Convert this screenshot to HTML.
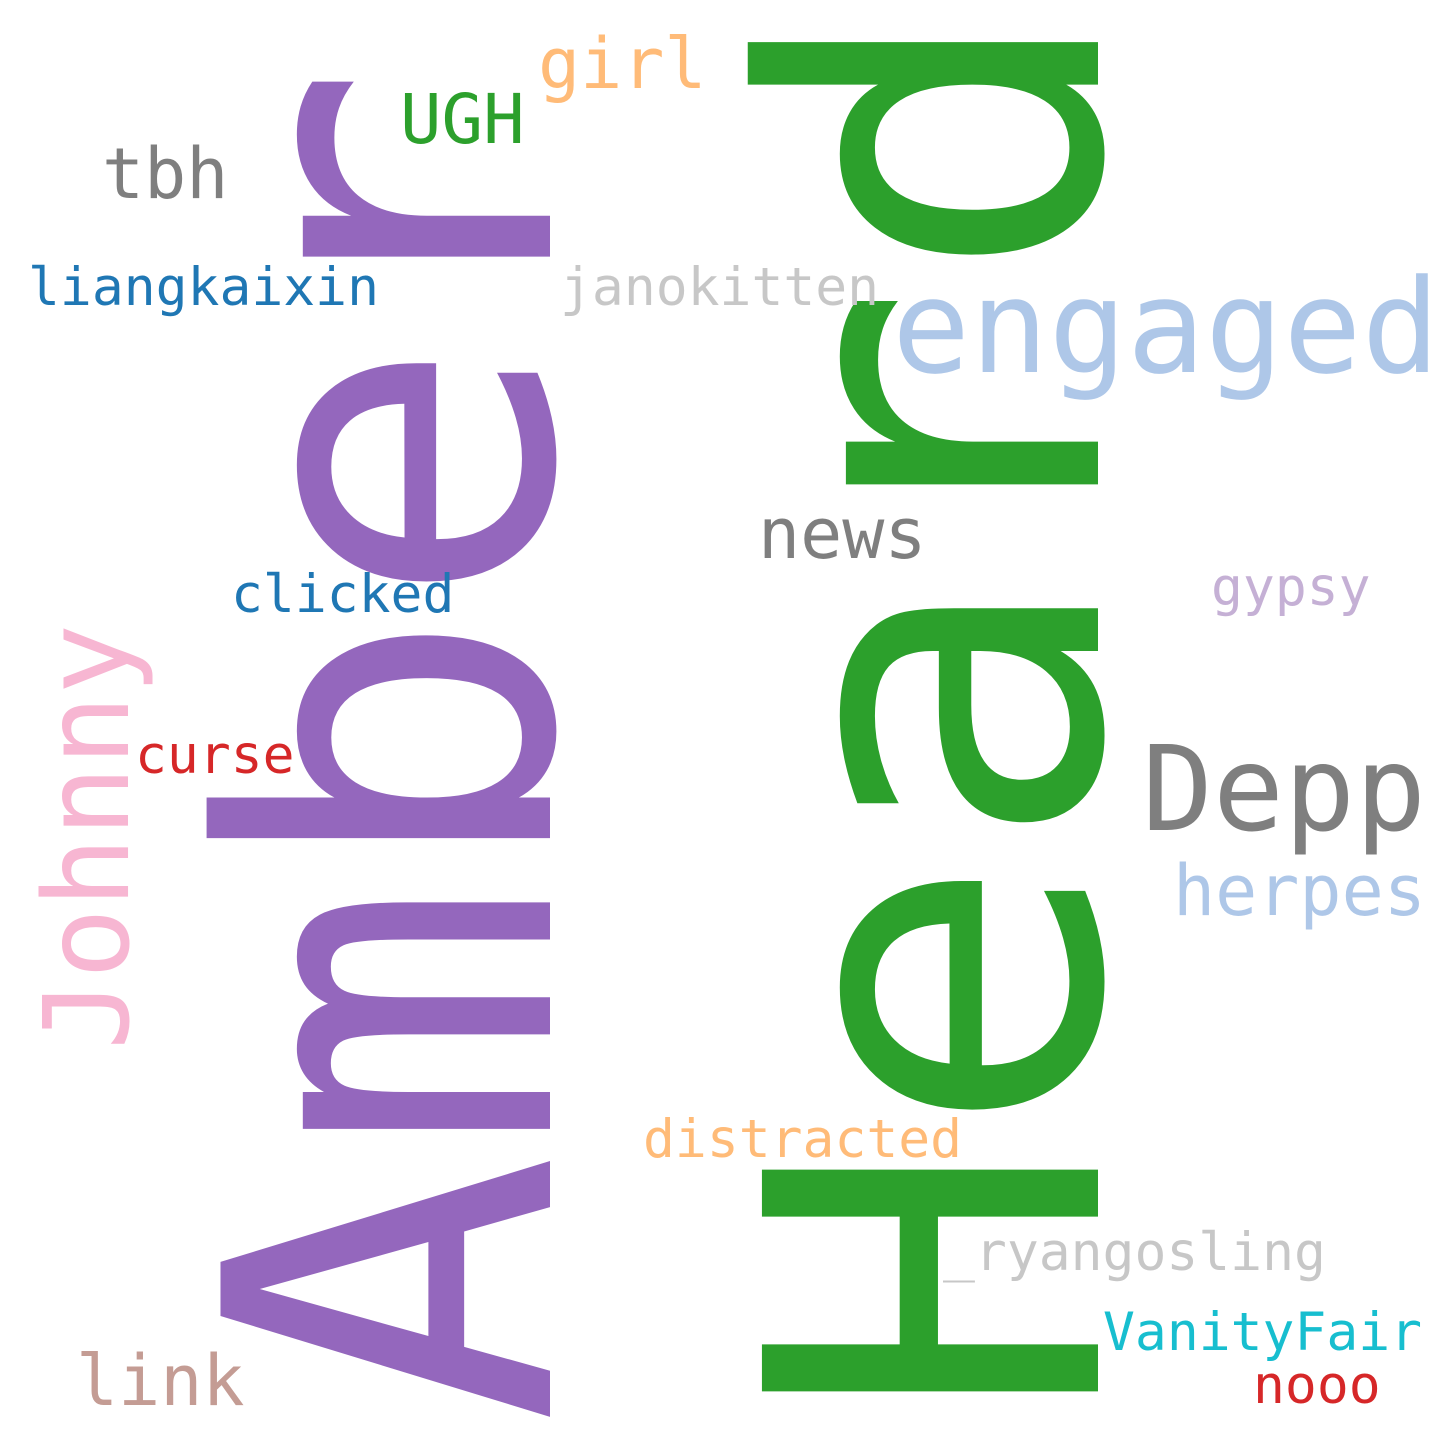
<!DOCTYPE html>
<html>
<head>
<meta charset="utf-8">
<style>
  html, body { margin: 0; padding: 0; background: #ffffff; }
  svg { display: block; }
  text { font-family: "DejaVu Sans Mono", "Liberation Mono", monospace; }
</style>
</head>
<body>
<svg width="1440" height="1440" viewBox="0 0 1440 1440" xmlns="http://www.w3.org/2000/svg">
  <rect width="1440" height="1440" fill="#ffffff"/>
  <text x="0" y="0" font-size="452" fill="#9467bd" transform="translate(550,1425) rotate(-90)">Amber</text>
  <text x="0" y="0" font-size="461" fill="#2ca02c" textLength="1425" lengthAdjust="spacingAndGlyphs" transform="translate(1098,1423) rotate(-90)">Heard</text>
  <text x="0" y="0" font-size="118" fill="#f7b6d2" transform="translate(128,1050) rotate(-90)">Johnny</text>
  <text x="538" y="88" font-size="70" fill="#ffbb78">girl</text>
  <text x="400" y="143" font-size="69" fill="#2ca02c">UGH</text>
  <text x="102" y="198" font-size="70" fill="#7f7f7f">tbh</text>
  <text x="28" y="305" font-size="53" fill="#1f77b4">liangkaixin</text>
  <text x="560" y="305" font-size="53" fill="#c7c7c7">janokitten</text>
  <text x="892" y="372" font-size="130" fill="#aec7e8">engaged</text>
  <text x="758" y="558" font-size="70" fill="#7f7f7f">news</text>
  <text x="231" y="612" font-size="53" fill="#1f77b4">clicked</text>
  <text x="1211" y="605" font-size="53" fill="#c5b0d5">gypsy</text>
  <text x="135" y="773" font-size="53" fill="#d62728">curse</text>
  <text x="1142" y="830" font-size="118" fill="#7f7f7f">Depp</text>
  <text x="1173" y="915" font-size="70" fill="#aec7e8">herpes</text>
  <text x="643" y="1157" font-size="53" fill="#ffbb78">distracted</text>
  <text x="943" y="1270" font-size="53" fill="#c7c7c7">_ryangosling</text>
  <text x="1103" y="1350" font-size="53" fill="#17becf">VanityFair</text>
  <text x="1253" y="1403" font-size="53" fill="#d62728">nooo</text>
  <text x="76" y="1405" font-size="70" fill="#c49c94">link</text>
</svg>
</body>
</html>
